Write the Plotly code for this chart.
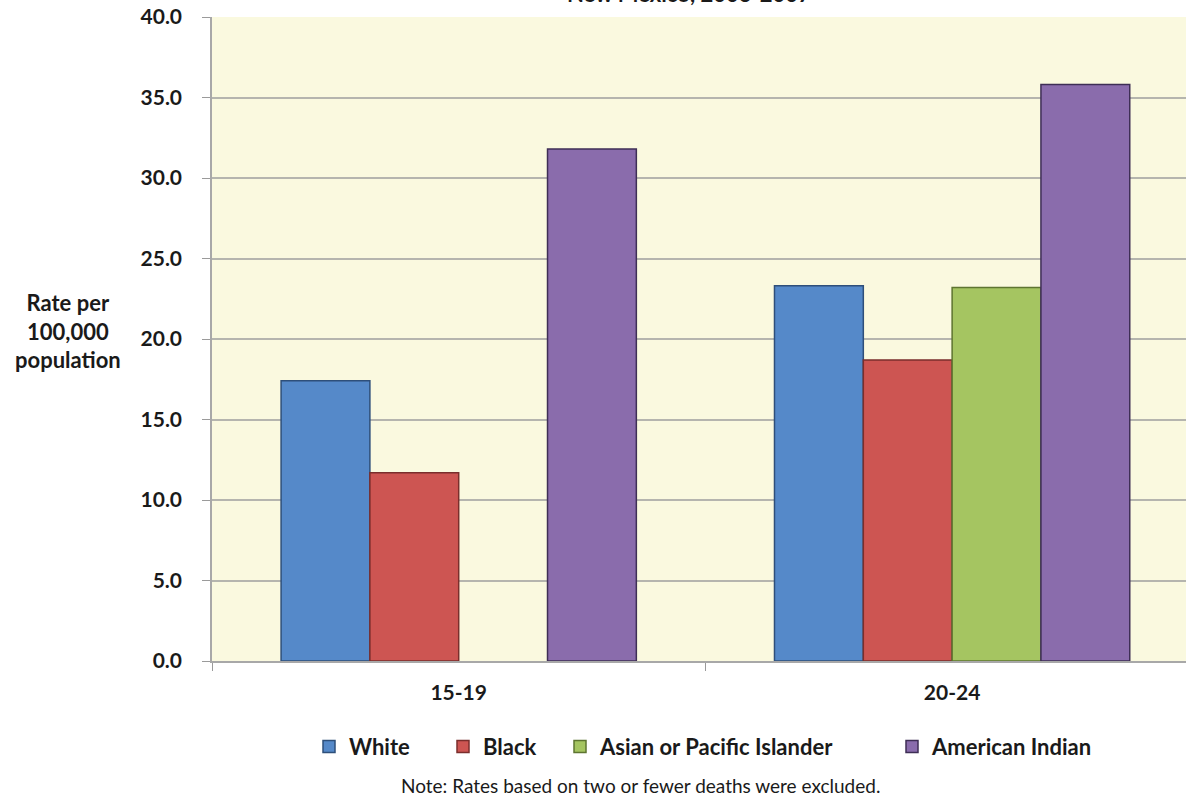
import plotly.graph_objects as go

# Age groups and rates per 100,000 population
age_groups = ["15-19", "20-24"]
white = [17.4, 23.3]
black = [11.7, 18.7]
asian_pi = [None, 23.2]
american_indian = [31.8, 35.8]

series = [
    ("White", white, "#5589C9", "#2E4F7A"),
    ("Black", black, "#CD5552", "#7A2E2C"),
    ("Asian or Pacific Islander", asian_pi, "#A5C561", "#5E7530"),
    ("American Indian", american_indian, "#8A6CAC", "#3E2E55"),
]

FONT = "Lato"
INK = "#1A1A1A"
L_MARGIN, PLOT_W = 212, 974

# Horizontal pixel where each legend entry's label begins
legend_text_px = [349, 483, 600, 932]
legend_ids = ["legend", "legend2", "legend3", "legend4"]

fig = go.Figure()
for (name, vals, fill, edge), lid in zip(series, legend_ids):
    fig.add_trace(go.Bar(
        x=age_groups, y=vals, name=name, legend=lid,
        marker=dict(color=fill, line=dict(color=edge, width=1.5)),
    ))

legend_font = dict(family=FONT, size=22, color=INK, weight="bold")
legends = {}
for lid, px in zip(legend_ids, legend_text_px):
    legends[lid] = dict(
        orientation="h", xanchor="left", yanchor="middle",
        x=(px - 40 - L_MARGIN) / PLOT_W, y=-0.133,
        font=legend_font, bgcolor="rgba(0,0,0,0)", itemwidth=30,
    )

fig.update_layout(
    width=1186, height=798,
    margin=dict(l=L_MARGIN, r=0, t=17, b=137),
    paper_bgcolor="white",
    plot_bgcolor="#FAF9DF",
    barmode="group",
    bargap=0.28,
    bargroupgap=0,
    font=dict(family=FONT, color=INK),
    showlegend=True,
    xaxis=dict(
        type="category", range=[-0.5, 1.474],
        tickson="boundaries", ticks="outside", ticklen=8, tickcolor="#9A9A9A",
        showline=True, linecolor="#A8A8A8", linewidth=1.5,
        ticklabelstandoff=12,
        tickfont=dict(family=FONT, size=21, color=INK, weight="bold"),
        showgrid=False,
    ),
    yaxis=dict(
        range=[0, 40], dtick=5, tickformat=".1f",
        ticks="outside", ticklen=8, tickcolor="#9A9A9A",
        showline=True, linecolor="#A8A8A8", linewidth=1.5,
        showgrid=True, gridcolor="#B5B5AE", gridwidth=1.5,
        zeroline=False,
        ticklabelstandoff=16,
        tickfont=dict(family=FONT, size=21, color=INK, weight="bold"),
    ),
    **legends,
)

# Chart title (last line, running off the top edge) and axis caption
fig.add_annotation(
    text="New Mexico, 2003-2007", xref="paper", yref="paper",
    x=0.49, y=1, xanchor="center", yanchor="bottom", yshift=8,
    showarrow=False, font=dict(family=FONT, size=22, color=INK, weight="bold"),
)
fig.add_annotation(
    text="Rate per<br>100,000<br>population", xref="paper", yref="paper",
    x=0, y=0.512, xanchor="center", yanchor="middle", xshift=-144,
    showarrow=False, align="center",
    font=dict(family=FONT, size=22, color=INK, weight="bold"),
)
fig.add_annotation(
    text="Note: Rates based on two or fewer deaths were excluded.",
    xref="paper", yref="paper", x=0.44, y=0, xanchor="center", yanchor="middle",
    yshift=-124, showarrow=False,
    font=dict(family=FONT, size=19, color=INK),
)

fig.write_html("out.html")
